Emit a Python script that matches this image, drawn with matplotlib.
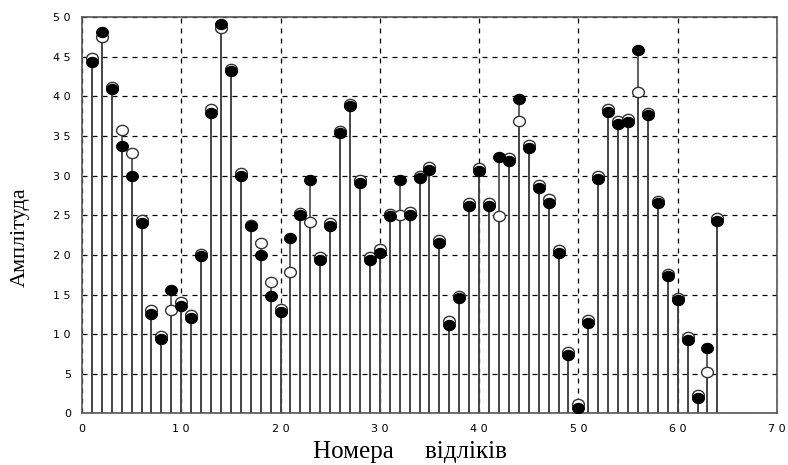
import matplotlib.pyplot as plt
import numpy as np
from matplotlib.path import Path
from matplotlib.transforms import Affine2D

# номери відліків
n = np.arange(1, 65)

# амплітуди - зафарбовані маркери
amp_filled = [44.4, 48.1, 41.0, 33.7, 30.0, 24.0, 12.6, 9.4, 15.6, 13.6,
              12.0, 19.9, 37.9, 49.1, 43.2, 30.0, 23.6, 20.0, 14.8, 12.8,
              22.1, 25.0, 29.4, 19.3, 23.6, 35.4, 38.8, 29.1, 19.3, 20.2,
              24.9, 29.5, 25.0, 29.7, 30.7, 21.5, 11.2, 14.5, 26.2, 30.6,
              26.2, 32.3, 31.9, 39.7, 33.5, 28.4, 26.6, 20.3, 7.4, 0.7,
              11.4, 29.6, 38.0, 36.5, 36.8, 45.8, 37.6, 26.5, 17.4, 14.3,
              9.3, 1.9, 8.3, 24.3]

# амплітуди - порожні маркери
amp_open = [44.9, 47.5, 41.2, 35.8, 32.8, 24.4, 13.0, 9.8, 13.0, 14.0,
            12.4, 20.1, 38.4, 48.7, 43.5, 30.4, 23.8, 21.5, 16.6, 13.2,
            17.8, 25.3, 24.1, 19.7, 24.0, 35.7, 39.1, 29.4, 19.7, 20.7,
            25.2, 25.0, 25.4, 30.0, 31.1, 21.9, 11.6, 14.8, 26.6, 31.0,
            26.6, 24.9, 32.2, 36.9, 33.9, 28.8, 27.0, 20.6, 7.7, 1.2,
            11.8, 29.9, 38.4, 36.9, 37.1, 40.6, 37.9, 26.8, 17.6, 14.6,
            9.7, 2.3, 5.2, 24.7]

xticks = np.arange(0, 71, 10)
yticks = np.arange(0, 51, 5)
xtick_labels = [" ".join(str(v)) for v in xticks]
ytick_labels = [" ".join(str(v)) for v in yticks]

# еліптичний маркер
ellipse = Path.unit_circle().transformed(Affine2D().scale(1.15, 1.0))

fig = plt.figure(figsize=(7.88, 4.65), dpi=100)
ax = fig.add_axes([0.104, 0.111, 0.882, 0.852])

ax.grid(True, color="black", linestyle=(0, (4, 4)), linewidth=0.9)
ax.set_axisbelow(True)

ax.vlines(n, 0, amp_open, color="#444444", lw=1.2, zorder=2)
ax.vlines(n, 0, amp_filled, color="#444444", lw=1.2, zorder=2)

ax.plot(n, amp_open, ls="none", marker=ellipse, ms=8.5,
        mfc="white", mec="#333333", mew=1.0, zorder=3)
ax.plot(n, amp_filled, ls="none", marker=ellipse, ms=8.5,
        mfc="black", mec="black", mew=0.8, zorder=4)

ax.set_xlim(0, 70)
ax.set_ylim(0, 50)
ax.set_xticks(xticks)
ax.set_xticklabels(xtick_labels)
ax.set_yticks(yticks)
ax.set_yticklabels(ytick_labels)
ax.tick_params(length=0, labelsize=8, pad=8)
for lab in ax.get_xticklabels() + ax.get_yticklabels():
    lab.set_family(["Liberation Sans Narrow", "DejaVu Sans"])

for s in ax.spines.values():
    s.set_color("#555555")
    s.set_linewidth(1.2)

# підписи осей
fig.text(410 / 788, 1 - 452 / 465, "Номера     відліків", family="Liberation Serif",
         fontsize=18, ha="center", va="center")
fig.text(20 / 788, 1 - 237 / 465, "Амплітуда", family="Liberation Serif",
         fontsize=16, rotation=90, ha="center", va="center")

fig.savefig("out.png", dpi=100)
